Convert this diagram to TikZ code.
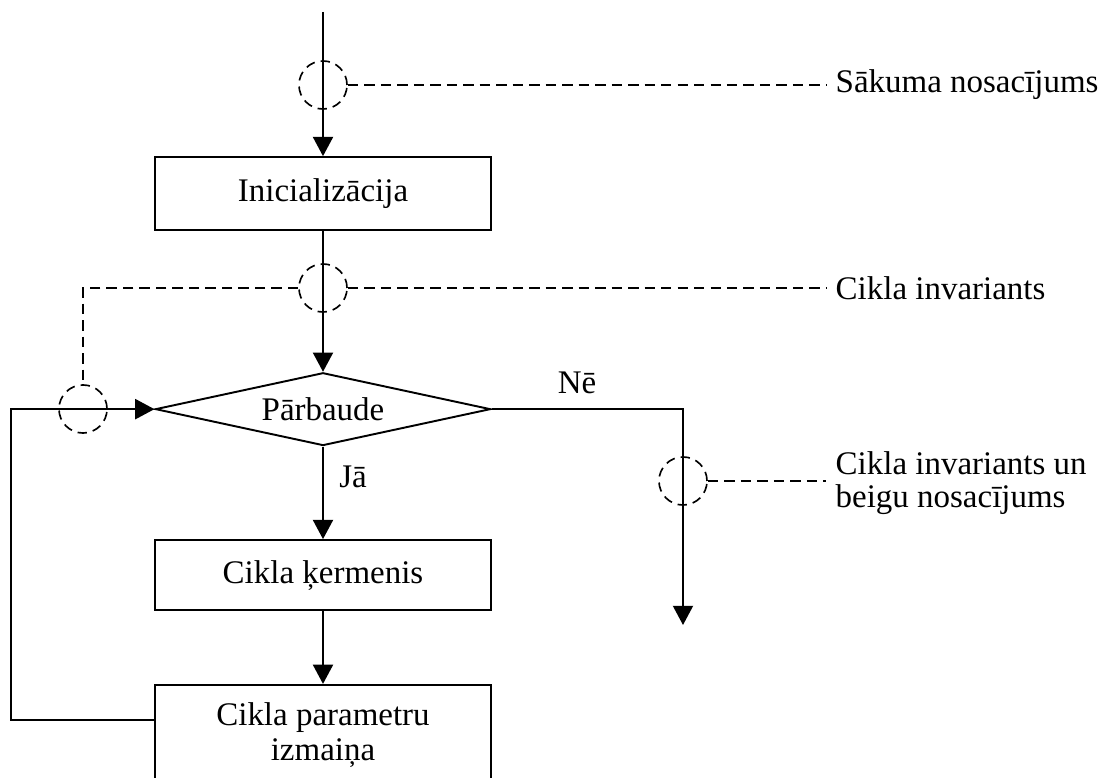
\documentclass[tikz,border=0pt]{standalone}
\usepackage{fontspec}
\setmainfont{Liberation Serif}
\usetikzlibrary{shapes.geometric, arrows.meta, positioning, calc}
\tikzset{
  block/.style={rectangle, draw, line width=0.7pt, minimum width=122pt,
    minimum height=26.5pt, align=center, font=\fontsize{12}{12.6}\selectfont},
  decision/.style={diamond, draw, line width=0.7pt, minimum width=122pt,
    minimum height=26.5pt, inner sep=0pt, shape aspect=4.6, font=\fontsize{12}{14}\selectfont},
  ring/.style={circle, draw, line width=0.6pt, dash pattern=on 3.4pt off 2.2pt,
    minimum size=17.5pt, inner sep=0pt},
  note/.style={anchor=west, align=left, font=\fontsize{12}{12}\selectfont},
  label/.style={font=\fontsize{12}{14}\selectfont},
  arrow/.style={-{Triangle[length=7pt,width=7.3pt]}, line width=0.7pt},
  guide/.style={line width=0.6pt, dash pattern=on 3.8pt off 2.2pt},
}
\begin{document}
\begin{tikzpicture}[x=0.364pt, y=-0.364pt]
  \useasboundingbox (0,0) rectangle (1105,778);
  \coordinate (start) at (323,12);
  \node[block] (init) at (323,193.5) {Inicializācija};
  \node[decision, below=51.3pt of init] (test) {Pārbaude};
  \node[block, below=33.7pt of test, minimum height=25.5pt] (body) {Cikla ķermenis};
  \node[block, below=26.5pt of body, minimum height=36.5pt] (upd) {Cikla parametru\\izmaiņa};
  \coordinate (exit) at (683,625);
  \draw[arrow] (start) -- (init);
  \draw[arrow] (init) -- (test);
  \draw[arrow] (test) -- (body);
  \draw[arrow] (body) -- (upd);
  \draw[arrow] (test.east) -| (exit);
  \draw[arrow] ($(upd.north west)+(0,36)$) -- ++(-143,0) |- (test.west);
  \node[label] (no) at (577,383) {Nē};
  \node[label] (yes) at (353,477) {Jā};
  \node[ring] (c1) at (323,85) {};
  \node[ring] (c2) at (323,288) {};
  \node[ring] (c3) at (83,409) {};
  \node[ring] (c4) at (683,481) {};
  \node[note] (n1) at (826,85) {Sākuma nosacījums};
  \node[note] (n2) at (826,288) {Cikla invariants};
  \node[note] (n3) at (826,483) {Cikla invariants un\\beigu nosacījums};
  \draw[guide] (c1.east) -- (c1.east -| n1.west);
  \draw[guide] (c2.east) -- (c2.east -| n2.west);
  \draw[guide] (c2.west) -| (c3.north);
  \draw[guide] (c4.east) -- (c4.east -| n3.west);
\end{tikzpicture}
\end{document}
